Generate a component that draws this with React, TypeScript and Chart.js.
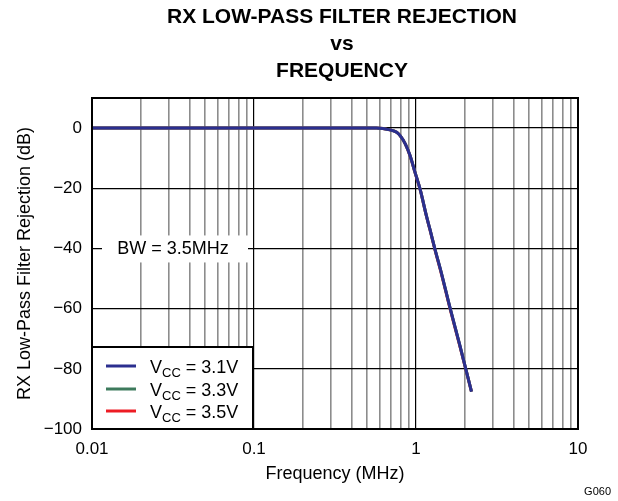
import React, { useEffect, useRef } from "react";
import { Chart, registerables } from "chart.js";

Chart.register(...registerables);

// Data
const freqMHz = [0.01, 0.1, 0.3, 0.5, 0.57, 0.69, 0.76, 0.8, 0.86, 0.92, 0.98, 1.06, 1.16, 1.22, 1.31, 1.44, 1.62, 1.86, 2.2];
const vcc31 = [0, 0, 0, 0, 0, -0.6, -1.4, -2.6, -5.3, -9.2, -14.2, -20.3, -29.2, -33.7, -40.3, -48.5, -59.6, -72, -87.6];
const vcc33 = [0, 0, 0, 0, 0, -0.6, -1.4, -2.6, -5.3, -9.2, -14.2, -20.3, -29.2, -33.7, -40.3, -48.5, -59.6, -72, -87.6];
const vcc35 = [0, 0, 0, 0, 0, -0.6, -1.4, -2.6, -5.3, -9.3, -14.3, -20.4, -29.3, -33.8, -40.5, -48.8, -59.9, -72.2, -87.6];

const seriesLabels = ["3.1V", "3.3V", "3.5V"];
const seriesColors = ["#2b2f8f", "#3d7a5c", "#ed1c24"];
const xDecades = [0.01, 0.1, 1, 10];
const yTicks = [-100, -80, -60, -40, -20, 0];
const titleLines = ["RX LOW-PASS FILTER REJECTION", "vs", "FREQUENCY"];
const xTitle = "Frequency (MHz)";
const yTitle = "RX Low-Pass Filter Rejection (dB)";
const bwLabel = "BW = 3.5MHz";
const figId = "G060";

const FONT = "'Liberation Sans', Arial, Helvetica, sans-serif";

const isDecade = (v: number) => Math.abs(Math.log10(v) - Math.round(Math.log10(v))) < 1e-6;

const toPts = (vals: number[]) => freqMHz.map((f, i) => ({ x: f, y: vals[i] }));

const decorPlugin = {
  id: "decor",
  afterDatasetsDraw(chart: any) {
    const { ctx, chartArea: a, scales } = chart;
    const ys = scales.y;
    ctx.save();
    // frame
    ctx.strokeStyle = "#000";
    ctx.lineWidth = 2;
    ctx.strokeRect(a.left, a.top, a.right - a.left, a.bottom - a.top);

    // BW label box
    const yBW = ys.getPixelForValue(-40);
    ctx.fillStyle = "#fff";
    ctx.fillRect(a.left + 10, yBW - 13, 146, 27);
    ctx.fillStyle = "#000";
    ctx.font = `18px ${FONT}`;
    ctx.textAlign = "center";
    ctx.textBaseline = "middle";
    ctx.fillText(bwLabel, a.left + 81, yBW + 1);

    // legend box
    const lx = a.left, lw = 161, lh = 82;
    const ly = a.bottom - lh;
    ctx.fillStyle = "#fff";
    ctx.fillRect(lx, ly, lw, lh);
    ctx.strokeStyle = "#000";
    ctx.lineWidth = 2;
    ctx.strokeRect(lx, ly, lw, lh);
    const rows = [ly + 19, ly + 42, ly + 64];
    seriesLabels.forEach((lab, i) => {
      const ry = rows[i];
      ctx.strokeStyle = seriesColors[i];
      ctx.lineWidth = 3;
      ctx.beginPath();
      ctx.moveTo(lx + 14, ry);
      ctx.lineTo(lx + 44, ry);
      ctx.stroke();
      ctx.fillStyle = "#000";
      ctx.textAlign = "left";
      ctx.textBaseline = "alphabetic";
      let tx = lx + 58;
      const base = ry + 7;
      ctx.font = `18px ${FONT}`;
      ctx.fillText("V", tx, base);
      tx += ctx.measureText("V").width;
      ctx.font = `13px ${FONT}`;
      ctx.fillText("CC", tx, base + 4);
      tx += ctx.measureText("CC").width;
      ctx.font = `18px ${FONT}`;
      ctx.fillText(" = " + lab, tx, base);
    });

    // titles
    ctx.fillStyle = "#000";
    ctx.textAlign = "center";
    ctx.textBaseline = "alphabetic";
    ctx.font = `bold 21px ${FONT}`;
    const tcx = 342;
    [23, 50, 77].forEach((by, i) => ctx.fillText(titleLines[i], tcx, by));

    // x title
    ctx.font = `18px ${FONT}`;
    ctx.fillText(xTitle, (a.left + a.right) / 2, 479);

    // y title
    ctx.save();
    ctx.translate(30, (a.top + a.bottom) / 2);
    ctx.rotate(-Math.PI / 2);
    ctx.textBaseline = "alphabetic";
    ctx.fillText(yTitle, 0, 0);
    ctx.restore();

    // figure id
    ctx.font = `11px ${FONT}`;
    ctx.textAlign = "right";
    ctx.fillText(figId, 611, 495);
    ctx.restore();
  },
};

export default function App() {
  const ref = useRef<HTMLCanvasElement>(null);
  useEffect(() => {
    document.body.style.margin = "0";
    const canvas = ref.current;
    if (!canvas) return;
    // Chart.js paints dataset 0 last (on top): blue on top, as in the reference
    const series = [vcc31, vcc33, vcc35];
    const chart = new Chart(canvas, {
      type: "line",
      data: {
        datasets: series.map((s, i) => ({
          label: "VCC = " + seriesLabels[i],
          data: toPts(s),
          borderColor: seriesColors[i],
          backgroundColor: seriesColors[i],
          borderWidth: 3,
          pointRadius: 0,
          cubicInterpolationMode: "monotone" as const,
          fill: false,
        })),
      },
      options: {
        responsive: false,
        animation: false,
        layout: { padding: { top: 98, right: 40, bottom: 0, left: 0 } },
        plugins: { legend: { display: false }, tooltip: { enabled: false }, title: { display: false } },
        scales: {
          x: {
            type: "logarithmic",
            min: 0.01,
            max: 10,
            afterFit: (s: any) => { s.height = 72; },
            afterBuildTicks: (s: any) => {
              const t: any[] = [];
              for (let e = -2; e < 1; e++) {
                for (let m = 1; m <= 9; m++) t.push({ value: m * Math.pow(10, e) });
              }
              t.push({ value: 10 });
              s.ticks = t;
            },
            ticks: {
              autoSkip: false,
              maxRotation: 0,
              padding: 10,
              color: "#000",
              font: { family: FONT, size: 17 },
              callback: (v: any) => {
                const n = Number(v);
                if (!isDecade(n)) return "";
                const d = xDecades.find((q) => Math.abs(q - n) / q < 1e-6);
                return d === undefined ? "" : String(d);
              },
            },
            grid: {
              drawTicks: false,
              color: (c: any) => (c.tick && isDecade(c.tick.value) ? "#000" : "#8c8c8c"),
              lineWidth: (c: any) => (c.tick && isDecade(c.tick.value) ? 1.2 : 1.6),
            },
            border: { display: false },
          },
          y: {
            min: -100,
            max: 10,
            afterFit: (s: any) => { s.width = 92; },
            afterBuildTicks: (s: any) => {
              s.ticks = yTicks.map((v) => ({ value: v }));
            },
            ticks: {
              padding: 10,
              color: "#000",
              font: { family: FONT, size: 17 },
              callback: (v: any) => (Number(v) < 0 ? "\u2212" + Math.abs(Number(v)) : String(v)),
            },
            grid: { drawTicks: false, color: "#000", lineWidth: 1.2 },
            border: { display: false },
          },
        },
      },
      plugins: [decorPlugin],
    });
    return () => chart.destroy();
  }, []);
  return (
    <div style={{ width: 618, height: 501 }}>
      <canvas ref={ref} width={618} height={501} />
    </div>
  );
}
